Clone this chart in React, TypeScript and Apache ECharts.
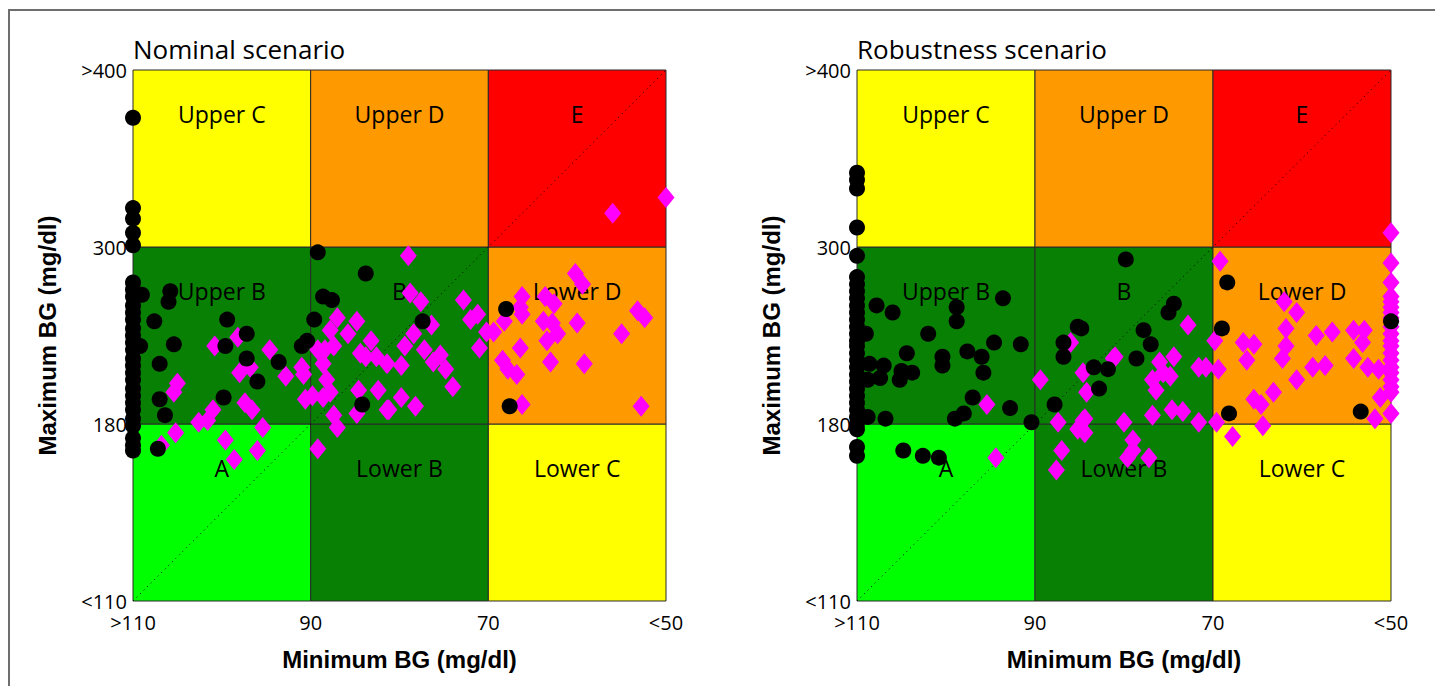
import { useEffect, useRef } from 'react';
import * as echarts from 'echarts';

// CVGA grid units: x 0..3 = >110, 90, 70, <50 (min BG); y 0..3 = <110, 180, 300, >400 (max BG)
const xTickLabels = ['>110', '90', '70', '<50'];
const yTickLabels = ['<110', '180', '300', '>400'];
const panelTitles = ['Nominal scenario', 'Robustness scenario'];
const xAxisTitle = 'Minimum BG (mg/dl)';
const yAxisTitle = 'Maximum BG (mg/dl)';

// zone names by [row (bottom->top)][col (left->right)]
const zoneNames = [
  ['A', 'Lower B', 'Lower C'],
  ['Upper B', 'B', 'Lower D'],
  ['Upper C', 'Upper D', 'E'],
];

const nominalCircles = [
  [0, 2.73], [0, 2.22], [0, 2.16], [0, 2.08], [0, 2.01], [0, 1.80], [0, 1.76], [0, 1.72], [0, 1.67], [0, 1.63],
  [0, 1.59], [0, 1.54], [0, 1.50], [0, 1.46], [0, 1.42], [0, 1.37], [0, 1.33], [0, 1.29], [0, 1.25], [0, 1.20],
  [0, 1.16], [0, 1.12], [0, 1.08], [0, 1.03], [0, 0.99], [0, 0.92], [0, 0.88], [0, 0.85],
  [0.05, 1.73], [0.21, 1.75], [0.20, 1.69], [0.12, 1.58], [0.04, 1.44], [0.23, 1.45], [0.15, 1.34], [0.15, 1.14],
  [0.18, 1.05], [0.14, 0.86], [0.53, 1.59], [0.52, 1.44], [0.64, 1.51], [0.64, 1.37], [0.51, 1.15], [0.70, 1.24],
  [0.82, 1.35], [0.98, 1.47], [0.95, 1.44], [1.02, 1.59], [1.04, 1.97], [1.07, 1.72], [1.12, 1.70], [1.31, 1.85],
  [1.29, 1.11], [1.63, 1.58], [2.10, 1.65], [2.12, 1.10],
];

const nominalDiamonds = [
  [0.25, 1.23], [0.23, 1.18], [0.24, 0.95], [0.16, 0.88], [0.46, 1.44], [0.59, 1.49], [0.37, 1.01], [0.42, 1.02],
  [0.45, 1.08], [0.52, 0.91], [0.57, 0.80], [0.63, 1.12], [0.67, 1.08], [0.73, 0.98], [0.70, 0.85], [0.77, 1.42],
  [0.86, 1.27], [0.60, 1.29], [0.66, 1.32], [0.95, 1.32], [0.96, 1.28], [0.97, 1.14], [1.01, 1.16], [1.04, 0.86],
  [1.04, 1.42], [1.08, 1.42], [1.13, 1.44], [1.15, 1.60], [1.11, 1.53], [1.21, 1.51], [1.26, 1.58], [1.34, 1.47],
  [1.07, 1.34], [1.09, 1.25], [1.07, 1.15], [1.11, 1.18], [1.13, 1.05], [1.15, 0.98], [1.27, 1.19], [1.26, 1.06],
  [1.38, 1.19], [1.43, 1.08], [1.28, 1.40], [1.31, 1.38], [1.37, 1.38], [1.43, 1.34], [1.55, 1.95], [1.56, 1.74],
  [1.62, 1.69], [1.68, 1.56], [1.58, 1.51], [1.53, 1.44], [1.86, 1.70], [1.90, 1.59], [1.94, 1.62], [1.99, 1.52],
  [2.03, 1.52], [1.95, 1.43], [1.64, 1.42], [1.51, 1.33], [1.69, 1.35], [1.73, 1.39], [1.76, 1.31], [1.80, 1.21],
  [1.51, 1.15], [1.59, 1.10], [1.44, 1.08], [2.49, 1.85], [2.53, 1.79], [2.19, 1.72], [2.18, 1.66], [2.09, 1.58],
  [2.19, 1.62], [2.32, 1.72], [2.37, 1.68], [2.31, 1.58], [2.36, 1.57], [2.39, 1.51], [2.33, 1.47], [2.18, 1.43],
  [2.08, 1.36], [2.11, 1.31], [2.16, 1.28], [2.35, 1.35], [2.50, 1.57], [2.54, 1.34], [2.75, 1.51], [2.84, 1.64],
  [2.88, 1.60], [2.19, 1.11], [2.86, 1.10], [2.70, 2.19], [3.00, 2.28],
];

const robustCircles = [
  [0, 2.42], [0, 2.38], [0, 2.33], [0, 2.11], [0, 1.95], [0, 1.83], [0, 1.79], [0, 1.75], [0, 1.71], [0, 1.67],
  [0, 1.63], [0, 1.59], [0, 1.55], [0, 1.51], [0, 1.47], [0, 1.44], [0, 1.40], [0, 1.36], [0, 1.32], [0, 1.28],
  [0, 1.24], [0, 1.20], [0, 1.16], [0, 1.12], [0, 1.08], [0, 1.04], [0, 1.00], [0, 0.97], [0, 0.87], [0, 0.82],
  [0.11, 1.67], [0.20, 1.63], [0.05, 1.51], [0.56, 1.66], [0.56, 1.58], [0.82, 1.71], [0.40, 1.51], [0.77, 1.46],
  [0.92, 1.45], [0.62, 1.41], [0.70, 1.38], [0.28, 1.40], [0.48, 1.38], [0.48, 1.33], [0.07, 1.34], [0.15, 1.33],
  [0.25, 1.30], [0.31, 1.29], [0.06, 1.25], [0.13, 1.26], [0.24, 1.25], [0.71, 1.29], [0.65, 1.15], [0.86, 1.09],
  [0.60, 1.06], [0.55, 1.03], [0.06, 1.04], [0.16, 1.03], [0.98, 1.01], [1.11, 1.11], [1.16, 1.46], [1.16, 1.38],
  [1.24, 1.55], [1.26, 1.54], [0.26, 0.85], [0.37, 0.82], [0.46, 0.81], [1.51, 1.93], [1.78, 1.68], [1.75, 1.63],
  [1.61, 1.53], [1.65, 1.45], [1.57, 1.37], [1.33, 1.32], [1.41, 1.31], [1.36, 1.20], [2.08, 1.80], [2.05, 1.54],
  [2.09, 1.06], [2.83, 1.07], [3.00, 1.58],
];

const robustDiamonds = [
  [1.20, 1.46], [1.03, 1.25], [0.73, 1.11], [0.78, 0.81], [1.13, 1.01], [1.27, 1.29], [1.29, 1.18], [1.28, 1.03],
  [1.24, 0.97], [1.28, 0.95], [1.15, 0.85], [1.12, 0.74], [1.44, 1.37], [1.86, 1.56], [1.70, 1.35], [1.78, 1.38],
  [1.66, 1.25], [1.72, 1.29], [1.76, 1.27], [1.68, 1.19], [1.92, 1.32], [1.96, 1.32], [1.50, 1.01], [1.66, 1.05],
  [1.77, 1.08], [1.83, 1.07], [1.92, 1.01], [1.27, 1.02], [1.55, 0.91], [1.55, 0.85], [1.52, 0.81], [1.64, 0.81],
  [1.45, 1.38], [2.02, 1.01], [2.11, 0.93], [2.04, 1.92], [2.01, 1.47], [2.03, 1.31], [2.40, 1.69], [2.47, 1.63],
  [2.41, 1.54], [2.17, 1.46], [2.23, 1.45], [2.19, 1.36], [2.39, 1.37], [2.41, 1.44], [2.58, 1.50], [2.67, 1.52],
  [2.79, 1.53], [2.85, 1.53], [2.84, 1.46], [2.56, 1.32], [2.63, 1.33], [2.79, 1.37], [2.87, 1.32], [2.93, 1.31],
  [2.47, 1.25], [2.34, 1.18], [2.23, 1.14], [2.27, 1.11], [2.28, 0.99], [2.94, 1.15], [2.91, 1.03], [3.00, 1.06],
  [3, 2.08], [3, 1.91], [3, 1.80], [3, 1.72], [3, 1.69], [3, 1.66], [3, 1.63], [3, 1.60], [3, 1.58], [3, 1.55],
  [3, 1.51], [3, 1.47], [3, 1.44], [3, 1.40], [3, 1.36], [3, 1.32], [3, 1.29], [3, 1.25], [3, 1.21], [3, 1.18],
];

const diagonal = [[0, 0], [3, 3]];

const ZONE_COLORS = [
  ['#00ff00', '#088004', '#ffff00'],
  ['#088004', '#088004', '#ff9900'],
  ['#ffff00', '#ff9900', '#ff0000'],
];

const LABEL_FONT = 'Open Sans';
const AXIS_TITLE_FONT = 'Liberation Sans';

function zoneAreas() {
  const out: any[] = [];
  for (let r = 0; r < 3; r++) {
    for (let c = 0; c < 3; c++) {
      out.push([
        { name: zoneNames[r][c], xAxis: c, yAxis: r, itemStyle: { color: ZONE_COLORS[r][c], opacity: 1, borderColor: '#2a2a2a', borderWidth: 1 } },
        { xAxis: c + 1, yAxis: r + 1 },
      ]);
    }
  }
  return out;
}

export default function App() {
  const ref = useRef<HTMLDivElement>(null);
  useEffect(() => {
    if (!ref.current) return;
    const chart = echarts.init(ref.current, null, { renderer: 'svg' });
    const grids = [
      { left: 133, top: 70, width: 533, height: 531 },
      { left: 857, top: 70, width: 534, height: 531 },
    ];
    const panels = [
      { circles: nominalCircles, diamonds: nominalDiamonds },
      { circles: robustCircles, diamonds: robustDiamonds },
    ];
    const xAxes = grids.map((_, i) => ({
      type: 'value', gridIndex: i, min: 0, max: 3, interval: 1,
      axisLine: { show: false }, axisTick: { show: false }, splitLine: { show: false },
      axisLabel: {
        margin: 12, fontFamily: LABEL_FONT, fontSize: 20, lineHeight: 18, color: '#000',
        showMinLabel: true, showMaxLabel: true,
        formatter: (v: number) => xTickLabels[Math.round(v)],
      },
      name: xAxisTitle, nameLocation: 'middle', nameGap: 46,
      nameTextStyle: { fontFamily: AXIS_TITLE_FONT, fontWeight: 'bold', fontSize: 24, color: '#000' },
    }));
    const yAxes = grids.map((_, i) => ({
      type: 'value', gridIndex: i, min: 0, max: 3, interval: 1,
      axisLine: { show: false }, axisTick: { show: false }, splitLine: { show: false },
      axisLabel: {
        margin: 6, fontFamily: LABEL_FONT, fontSize: 20, lineHeight: 18, color: '#000',
        showMinLabel: true, showMaxLabel: true,
        formatter: (v: number) => yTickLabels[Math.round(v)],
      },
      name: yAxisTitle, nameLocation: 'middle', nameGap: 74,
      nameTextStyle: { fontFamily: AXIS_TITLE_FONT, fontWeight: 'bold', fontSize: 24, color: '#000' },
    }));
    const series: any[] = [];
    panels.forEach((p, i) => {
      series.push({
        type: 'scatter', xAxisIndex: i, yAxisIndex: i, data: [], z: 1, silent: true,
        markArea: {
          silent: true,
          label: { show: true, position: 'insideTop', distance: 33, fontFamily: LABEL_FONT, fontSize: 23, color: '#000' },
          emphasis: { disabled: true },
          data: zoneAreas(),
        },
      });
      series.push({
        type: 'line', xAxisIndex: i, yAxisIndex: i, data: diagonal, z: 2, symbol: 'none', silent: true,
        lineStyle: { color: '#000', width: 1, type: [1, 4] },
      });
      series.push({
        type: 'scatter', xAxisIndex: i, yAxisIndex: i, data: p.diamonds, z: 3,
        symbol: 'diamond', symbolSize: [17, 21], itemStyle: { color: '#ff00ff', opacity: 1 },
      });
      series.push({
        type: 'scatter', xAxisIndex: i, yAxisIndex: i, data: p.circles, z: 4,
        symbol: 'circle', symbolSize: 16, itemStyle: { color: '#000', opacity: 1 },
      });
    });
    chart.setOption({
      animation: false,
      backgroundColor: '#fff',
      title: panelTitles.map((t, i) => ({
        text: t, left: grids[i].left, top: 36, padding: 0,
        textStyle: { fontFamily: LABEL_FONT, fontSize: 26, fontWeight: 'normal', color: '#000' },
      })),
      graphic: [
        { type: 'rect', shape: { x: 9, y: 10, width: 1500, height: 1000 }, style: { fill: 'none', stroke: '#6e6e6e', lineWidth: 2 }, silent: true },
      ],
      grid: grids,
      xAxis: xAxes,
      yAxis: yAxes,
      series,
    });
    return () => chart.dispose();
  }, []);
  return <div ref={ref} style={{ position: 'fixed', left: 0, top: 0, width: 1435, height: 686 }} />;
}
